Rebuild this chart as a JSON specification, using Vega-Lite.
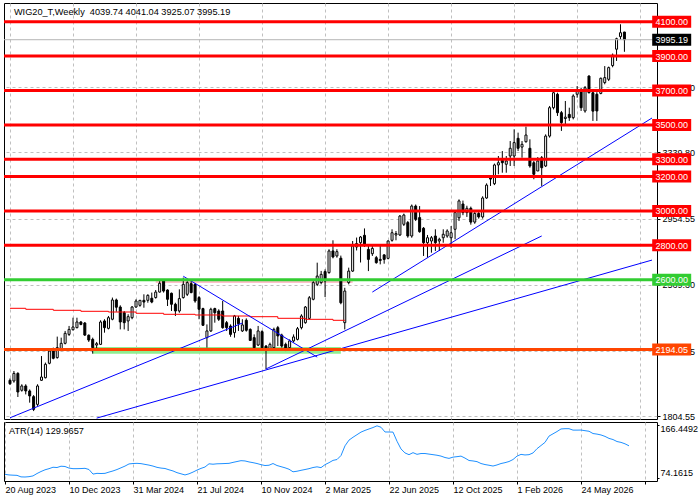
{
  "$schema": "https://vega.github.io/schema/vega-lite/v6.json",
  "background": "white",
  "padding": {"left": 2, "top": 2, "right": 0, "bottom": 0},
  "bounds": "flush",
  "spacing": 3,
  "config": {
    "font": "Liberation Sans",
    "view": {"stroke": "black", "strokeWidth": 1},
    "axis": {"labelFont": "Liberation Sans", "labelFontSize": 9, "labelColor": "black"},
    "text": {"font": "Liberation Sans"}
  },
  "datasets": {
    "candles": [
      {"d":"2023-08-20","o":2015,"h":2026,"l":1988,"c":1995,"a":80.1},
      {"d":"2023-08-27","o":2011,"h":2069,"l":2001,"c":2055,"a":79.0},
      {"d":"2023-09-03","o":2055,"h":2062,"l":1918,"c":1947,"a":78.6},
      {"d":"2023-09-10","o":1957,"h":1992,"l":1949,"c":1982,"a":78.3},
      {"d":"2023-09-17","o":1982,"h":1992,"l":1933,"c":1953,"a":75.6},
      {"d":"2023-09-24","o":1953,"h":1962,"l":1885,"c":1924,"a":75.4},
      {"d":"2023-10-01","o":1920,"h":1929,"l":1836,"c":1846,"a":76.0},
      {"d":"2023-10-08","o":1875,"h":1992,"l":1866,"c":1982,"a":77.3},
      {"d":"2023-10-15","o":2015,"h":2156,"l":2011,"c":2034,"a":81.5},
      {"d":"2023-10-22","o":2030,"h":2118,"l":2026,"c":2108,"a":85.0},
      {"d":"2023-10-29","o":2114,"h":2191,"l":2108,"c":2185,"a":88.0},
      {"d":"2023-11-05","o":2199,"h":2205,"l":2137,"c":2143,"a":90.0},
      {"d":"2023-11-12","o":2147,"h":2269,"l":2141,"c":2205,"a":92.5},
      {"d":"2023-11-19","o":2199,"h":2263,"l":2185,"c":2230,"a":92.0},
      {"d":"2023-11-26","o":2230,"h":2302,"l":2224,"c":2288,"a":94.3},
      {"d":"2023-12-03","o":2282,"h":2331,"l":2273,"c":2311,"a":93.8},
      {"d":"2023-12-10","o":2309,"h":2379,"l":2305,"c":2325,"a":91.0},
      {"d":"2023-12-17","o":2321,"h":2379,"l":2317,"c":2354,"a":90.0},
      {"d":"2023-12-24","o":2354,"h":2360,"l":2335,"c":2340,"a":90.0},
      {"d":"2023-12-31","o":2348,"h":2354,"l":2273,"c":2278,"a":90.2},
      {"d":"2024-01-07","o":2277,"h":2282,"l":2238,"c":2249,"a":90.6},
      {"d":"2024-01-14","o":2253,"h":2263,"l":2170,"c":2205,"a":88.5},
      {"d":"2024-01-21","o":2220,"h":2238,"l":2195,"c":2228,"a":80.5},
      {"d":"2024-01-28","o":2224,"h":2364,"l":2220,"c":2354,"a":81.8},
      {"d":"2024-02-04","o":2360,"h":2370,"l":2292,"c":2321,"a":81.5},
      {"d":"2024-02-11","o":2317,"h":2389,"l":2311,"c":2379,"a":81.8},
      {"d":"2024-02-18","o":2370,"h":2496,"l":2364,"c":2482,"a":84.0},
      {"d":"2024-02-25","o":2482,"h":2490,"l":2414,"c":2440,"a":86.0},
      {"d":"2024-03-03","o":2441,"h":2451,"l":2311,"c":2354,"a":88.5},
      {"d":"2024-03-10","o":2408,"h":2418,"l":2311,"c":2350,"a":91.5},
      {"d":"2024-03-17","o":2360,"h":2399,"l":2302,"c":2385,"a":94.5},
      {"d":"2024-03-24","o":2379,"h":2447,"l":2370,"c":2441,"a":98.3},
      {"d":"2024-03-31","o":2441,"h":2486,"l":2437,"c":2476,"a":99.0},
      {"d":"2024-04-07","o":2451,"h":2482,"l":2443,"c":2480,"a":99.3},
      {"d":"2024-04-14","o":2480,"h":2515,"l":2437,"c":2470,"a":98.8},
      {"d":"2024-04-21","o":2480,"h":2515,"l":2466,"c":2509,"a":97.5},
      {"d":"2024-04-28","o":2492,"h":2525,"l":2463,"c":2470,"a":96.2},
      {"d":"2024-05-05","o":2496,"h":2540,"l":2490,"c":2528,"a":94.5},
      {"d":"2024-05-12","o":2528,"h":2592,"l":2525,"c":2579,"a":92.3},
      {"d":"2024-05-19","o":2592,"h":2602,"l":2525,"c":2534,"a":91.0},
      {"d":"2024-05-26","o":2540,"h":2544,"l":2447,"c":2486,"a":90.3},
      {"d":"2024-06-02","o":2521,"h":2525,"l":2418,"c":2457,"a":88.0},
      {"d":"2024-06-09","o":2457,"h":2466,"l":2389,"c":2418,"a":86.0},
      {"d":"2024-06-16","o":2418,"h":2544,"l":2408,"c":2490,"a":83.0},
      {"d":"2024-06-23","o":2496,"h":2612,"l":2490,"c":2573,"a":81.0},
      {"d":"2024-06-30","o":2515,"h":2592,"l":2505,"c":2583,"a":79.0},
      {"d":"2024-07-07","o":2577,"h":2592,"l":2521,"c":2525,"a":81.0},
      {"d":"2024-07-14","o":2573,"h":2579,"l":2466,"c":2476,"a":84.0},
      {"d":"2024-07-21","o":2496,"h":2505,"l":2370,"c":2428,"a":87.5},
      {"d":"2024-07-28","o":2432,"h":2437,"l":2331,"c":2335,"a":90.5},
      {"d":"2024-08-04","o":2263,"h":2340,"l":2205,"c":2302,"a":92.9},
      {"d":"2024-08-11","o":2302,"h":2437,"l":2296,"c":2428,"a":98.5},
      {"d":"2024-08-18","o":2432,"h":2437,"l":2350,"c":2408,"a":97.8},
      {"d":"2024-08-25","o":2418,"h":2428,"l":2360,"c":2370,"a":98.5},
      {"d":"2024-09-01","o":2418,"h":2476,"l":2315,"c":2321,"a":98.7},
      {"d":"2024-09-08","o":2350,"h":2360,"l":2302,"c":2321,"a":99.0},
      {"d":"2024-09-15","o":2330,"h":2340,"l":2268,"c":2282,"a":99.3},
      {"d":"2024-09-22","o":2292,"h":2395,"l":2263,"c":2389,"a":101.0},
      {"d":"2024-09-29","o":2375,"h":2389,"l":2302,"c":2344,"a":102.5},
      {"d":"2024-10-06","o":2302,"h":2370,"l":2296,"c":2337,"a":104.0},
      {"d":"2024-10-13","o":2364,"h":2375,"l":2298,"c":2306,"a":103.5},
      {"d":"2024-10-20","o":2311,"h":2317,"l":2244,"c":2247,"a":101.8},
      {"d":"2024-10-27","o":2263,"h":2282,"l":2195,"c":2205,"a":100.5},
      {"d":"2024-11-03","o":2220,"h":2331,"l":2214,"c":2302,"a":99.0},
      {"d":"2024-11-10","o":2298,"h":2306,"l":2195,"c":2205,"a":97.0},
      {"d":"2024-11-17","o":2214,"h":2220,"l":2079,"c":2195,"a":95.5},
      {"d":"2024-11-24","o":2195,"h":2234,"l":2189,"c":2224,"a":96.0},
      {"d":"2024-12-01","o":2205,"h":2321,"l":2195,"c":2311,"a":99.0},
      {"d":"2024-12-08","o":2321,"h":2331,"l":2214,"c":2273,"a":95.5},
      {"d":"2024-12-15","o":2278,"h":2286,"l":2205,"c":2214,"a":93.5},
      {"d":"2024-12-22","o":2224,"h":2234,"l":2185,"c":2201,"a":91.5},
      {"d":"2024-12-29","o":2205,"h":2253,"l":2189,"c":2244,"a":89.0},
      {"d":"2025-01-05","o":2244,"h":2282,"l":2234,"c":2267,"a":84.5},
      {"d":"2025-01-12","o":2253,"h":2325,"l":2247,"c":2315,"a":85.5},
      {"d":"2025-01-19","o":2321,"h":2399,"l":2311,"c":2389,"a":87.1},
      {"d":"2025-01-26","o":2350,"h":2447,"l":2344,"c":2441,"a":88.5},
      {"d":"2025-02-02","o":2375,"h":2505,"l":2369,"c":2495,"a":90.0},
      {"d":"2025-02-09","o":2486,"h":2592,"l":2480,"c":2583,"a":92.0},
      {"d":"2025-02-16","o":2573,"h":2699,"l":2563,"c":2621,"a":93.2},
      {"d":"2025-02-23","o":2583,"h":2651,"l":2573,"c":2631,"a":91.8},
      {"d":"2025-03-02","o":2647,"h":2660,"l":2499,"c":2592,"a":97.0},
      {"d":"2025-03-09","o":2641,"h":2777,"l":2635,"c":2767,"a":100.5},
      {"d":"2025-03-16","o":2767,"h":2829,"l":2724,"c":2732,"a":104.5},
      {"d":"2025-03-23","o":2738,"h":2777,"l":2728,"c":2763,"a":106.0},
      {"d":"2025-03-30","o":2725,"h":2740,"l":2457,"c":2466,"a":113.0},
      {"d":"2025-04-06","o":2350,"h":2553,"l":2311,"c":2534,"a":130.0},
      {"d":"2025-04-13","o":2583,"h":2670,"l":2573,"c":2650,"a":140.0},
      {"d":"2025-04-20","o":2650,"h":2825,"l":2645,"c":2796,"a":145.0},
      {"d":"2025-04-27","o":2790,"h":2845,"l":2770,"c":2810,"a":149.5},
      {"d":"2025-05-04","o":2815,"h":2854,"l":2700,"c":2848,"a":154.0},
      {"d":"2025-05-11","o":2858,"h":2898,"l":2790,"c":2806,"a":157.0},
      {"d":"2025-05-18","o":2776,"h":2796,"l":2650,"c":2718,"a":159.5},
      {"d":"2025-05-25","o":2751,"h":2806,"l":2738,"c":2782,"a":162.0},
      {"d":"2025-06-01","o":2728,"h":2738,"l":2693,"c":2699,"a":165.0},
      {"d":"2025-06-08","o":2718,"h":2796,"l":2689,"c":2712,"a":162.5},
      {"d":"2025-06-15","o":2744,"h":2748,"l":2693,"c":2718,"a":154.2},
      {"d":"2025-06-22","o":2724,"h":2829,"l":2718,"c":2825,"a":154.2},
      {"d":"2025-06-29","o":2829,"h":2893,"l":2821,"c":2873,"a":154.0},
      {"d":"2025-07-06","o":2860,"h":2883,"l":2829,"c":2868,"a":138.0},
      {"d":"2025-07-13","o":2860,"h":2976,"l":2854,"c":2970,"a":124.5},
      {"d":"2025-07-20","o":2922,"h":2984,"l":2912,"c":2976,"a":117.5},
      {"d":"2025-07-27","o":2932,"h":2941,"l":2844,"c":2854,"a":114.5},
      {"d":"2025-08-03","o":2854,"h":3037,"l":2844,"c":3028,"a":118.0},
      {"d":"2025-08-10","o":3028,"h":3037,"l":2941,"c":2951,"a":115.1},
      {"d":"2025-08-17","o":2961,"h":3028,"l":2873,"c":2879,"a":116.5},
      {"d":"2025-08-24","o":2899,"h":2906,"l":2738,"c":2815,"a":116.5},
      {"d":"2025-08-31","o":2815,"h":2860,"l":2728,"c":2844,"a":115.5},
      {"d":"2025-09-07","o":2825,"h":2854,"l":2757,"c":2844,"a":114.5},
      {"d":"2025-09-14","o":2854,"h":2893,"l":2767,"c":2815,"a":113.5},
      {"d":"2025-09-21","o":2825,"h":2844,"l":2767,"c":2835,"a":112.0},
      {"d":"2025-09-28","o":2844,"h":2893,"l":2815,"c":2864,"a":109.5},
      {"d":"2025-10-05","o":2854,"h":2893,"l":2844,"c":2883,"a":108.0},
      {"d":"2025-10-12","o":2844,"h":2912,"l":2786,"c":2873,"a":110.2},
      {"d":"2025-10-19","o":2893,"h":2999,"l":2835,"c":2990,"a":111.0},
      {"d":"2025-10-26","o":2960,"h":3067,"l":2941,"c":3058,"a":112.0},
      {"d":"2025-11-02","o":3040,"h":3060,"l":2975,"c":2990,"a":108.5},
      {"d":"2025-11-09","o":2990,"h":3030,"l":2965,"c":3015,"a":104.3},
      {"d":"2025-11-16","o":3015,"h":3025,"l":2920,"c":2935,"a":103.5},
      {"d":"2025-11-23","o":2935,"h":2995,"l":2925,"c":2985,"a":102.3},
      {"d":"2025-11-30","o":2985,"h":2995,"l":2955,"c":2965,"a":99.0},
      {"d":"2025-12-07","o":2965,"h":3085,"l":2955,"c":3075,"a":97.2},
      {"d":"2025-12-14","o":3075,"h":3160,"l":3070,"c":3150,"a":96.0},
      {"d":"2025-12-21","o":3197,"h":3205,"l":3145,"c":3185,"a":94.6},
      {"d":"2025-12-28","o":3158,"h":3275,"l":3150,"c":3267,"a":96.5},
      {"d":"2026-01-04","o":3267,"h":3319,"l":3213,"c":3280,"a":99.0},
      {"d":"2026-01-11","o":3294,"h":3348,"l":3222,"c":3280,"a":100.5},
      {"d":"2026-01-18","o":3271,"h":3319,"l":3222,"c":3290,"a":102.5},
      {"d":"2026-01-25","o":3319,"h":3406,"l":3261,"c":3364,"a":106.0},
      {"d":"2026-02-01","o":3319,"h":3474,"l":3261,"c":3397,"a":112.0},
      {"d":"2026-02-08","o":3422,"h":3455,"l":3348,"c":3364,"a":115.0},
      {"d":"2026-02-15","o":3371,"h":3406,"l":3309,"c":3387,"a":114.0},
      {"d":"2026-02-22","o":3402,"h":3490,"l":3397,"c":3441,"a":114.5},
      {"d":"2026-03-01","o":3364,"h":3416,"l":3251,"c":3261,"a":117.5},
      {"d":"2026-03-08","o":3280,"h":3290,"l":3184,"c":3213,"a":125.0},
      {"d":"2026-03-15","o":3232,"h":3313,"l":3232,"c":3290,"a":130.5},
      {"d":"2026-03-22","o":3309,"h":3319,"l":3145,"c":3251,"a":136.0},
      {"d":"2026-03-29","o":3261,"h":3445,"l":3255,"c":3435,"a":147.0},
      {"d":"2026-04-05","o":3435,"h":3610,"l":3426,"c":3600,"a":151.0},
      {"d":"2026-04-12","o":3600,"h":3697,"l":3590,"c":3687,"a":155.0},
      {"d":"2026-04-19","o":3678,"h":3687,"l":3552,"c":3571,"a":159.5},
      {"d":"2026-04-26","o":3571,"h":3581,"l":3465,"c":3513,"a":160.0},
      {"d":"2026-05-03","o":3537,"h":3639,"l":3503,"c":3545,"a":160.0},
      {"d":"2026-05-10","o":3561,"h":3600,"l":3523,"c":3542,"a":157.5},
      {"d":"2026-05-17","o":3542,"h":3678,"l":3532,"c":3668,"a":157.5},
      {"d":"2026-05-24","o":3678,"h":3726,"l":3658,"c":3697,"a":157.6},
      {"d":"2026-05-31","o":3697,"h":3716,"l":3581,"c":3600,"a":156.5},
      {"d":"2026-06-07","o":3581,"h":3726,"l":3571,"c":3716,"a":155.5},
      {"d":"2026-06-14","o":3784,"h":3788,"l":3683,"c":3687,"a":151.5},
      {"d":"2026-06-21","o":3687,"h":3697,"l":3523,"c":3580,"a":150.5},
      {"d":"2026-06-28","o":3678,"h":3690,"l":3523,"c":3581,"a":149.0},
      {"d":"2026-07-05","o":3683,"h":3775,"l":3678,"c":3771,"a":146.5},
      {"d":"2026-07-12","o":3746,"h":3842,"l":3736,"c":3775,"a":143.0},
      {"d":"2026-07-19","o":3765,"h":3839,"l":3755,"c":3833,"a":141.0},
      {"d":"2026-07-26","o":3845,"h":3915,"l":3835,"c":3905,"a":137.5},
      {"d":"2026-08-02","o":3940,"h":4007,"l":3872,"c":4001,"a":136.0},
      {"d":"2026-08-09","o":4013,"h":4085,"l":3997,"c":4036,"a":133.5},
      {"d":"2026-08-16","o":4039.74,"h":4041.04,"l":3925.07,"c":3995.19,"a":129.9657}
    ],
    "levels": [
      {"p":4100,"k":"r"},{"p":3900,"k":"r"},{"p":3700,"k":"r"},{"p":3500,"k":"r"},
      {"p":3300,"k":"r"},{"p":3200,"k":"r"},{"p":3000,"k":"r"},{"p":2800,"k":"r"},
      {"p":2600,"k":"g"},{"p":2194.05,"k":"o"}
    ],
    "last": [{"p":3995.19,"k":"k"}],
    "bands": [
      {"d1":"2024-01-14","d2":"2025-03-30","p1":2170,"p2":2209,"k":"lg"},
      {"d1":"2024-05-05","d2":"2025-04-20","p1":2581,"p2":2600,"k":"pk"}
    ],
    "ma": [
      {"d":"2023-08-20","p":2433.6},{"d":"2023-09-17","p":2427.8},{"d":"2023-11-05","p":2422.0},
      {"d":"2023-12-24","p":2416.2},{"d":"2024-02-11","p":2412.1},{"d":"2024-03-31","p":2404.6},
      {"d":"2024-05-19","p":2398.7},{"d":"2024-07-14","p":2394.7},{"d":"2024-09-01","p":2388.8},
      {"d":"2024-10-20","p":2384.8},{"d":"2024-12-08","p":2375.5},{"d":"2025-01-26","p":2369.6},
      {"d":"2025-03-16","p":2363.8},{"d":"2025-04-06","p":2363.8}
    ],
    "tl": [
      {"id":"a","d":"2023-08-20","p":1797},{"id":"a","d":"2024-10-06","p":2348},
      {"id":"b","d":"2024-06-23","p":2620},{"id":"b","d":"2025-02-16","p":2150},
      {"id":"c","d":"2024-01-21","p":1795},{"id":"c","d":"2026-10-04","p":2714},
      {"id":"d","d":"2024-11-17","p":2081},{"id":"d","d":"2026-03-22","p":2854},
      {"id":"e","d":"2025-05-25","p":2528},{"id":"e","d":"2026-10-04","p":3540}
    ]
  },
  "vconcat": [
    {
      "width": 653,
      "height": 416,
      "layer": [
        {
          "data": {"name": "bands"},
          "mark": {"type": "rect"},
          "encoding": {
            "x": {"field": "d1", "type": "temporal", "title": null,
              "scale": {"type": "utc", "domain": [{"year":2023,"month":8,"date":18,"hours":6,"utc":true},{"year":2026,"month":10,"date":4,"utc":true}]},
              "axis": {"values": [{"year":2023,"month":8,"date":20,"utc":true},{"year":2023,"month":10,"date":15,"utc":true},{"year":2023,"month":12,"date":10,"utc":true},{"year":2024,"month":2,"date":4,"utc":true},{"year":2024,"month":3,"date":31,"utc":true},{"year":2024,"month":5,"date":26,"utc":true},{"year":2024,"month":7,"date":21,"utc":true},{"year":2024,"month":9,"date":15,"utc":true},{"year":2024,"month":11,"date":10,"utc":true},{"year":2025,"month":1,"date":5,"utc":true},{"year":2025,"month":3,"date":2,"utc":true},{"year":2025,"month":4,"date":27,"utc":true},{"year":2025,"month":6,"date":22,"utc":true},{"year":2025,"month":8,"date":17,"utc":true},{"year":2025,"month":10,"date":12,"utc":true},{"year":2025,"month":12,"date":7,"utc":true},{"year":2026,"month":2,"date":1,"utc":true},{"year":2026,"month":3,"date":29,"utc":true},{"year":2026,"month":5,"date":24,"utc":true},{"year":2026,"month":7,"date":19,"utc":true},{"year":2026,"month":9,"date":13,"utc":true}],
                "labels": false, "ticks": false, "domain": false, "grid": true, "gridColor": "#c0c0c0", "gridDash": [3,3], "title": null, "zindex": 0}},
            "x2": {"field": "d2"},
            "y": {"field": "p1", "type": "quantitative", "title": null,
              "scale": {"domain": [1790, 4208.7], "nice": false, "zero": false},
              "axis": {"orient": "right", "values": [1804.55,1994.30,2184.05,2379.55,2569.30,2764.80,2954.55,3144.30,3339.80,3529.55,3719.80,3909.55],
                "format": ".2f", "grid": true, "gridColor": "#c0c0c0", "gridDash": [3,3], "domain": false, "tickSize": 3, "tickColor": "black",
                "labelPadding": 2, "labelOverlap": false, "title": null, "zindex": 0}},
            "y2": {"field": "p2"},
            "color": {"field": "k", "type": "nominal", "legend": null,
              "scale": {"domain": ["r","g","o","k","lg","pk"], "range": ["#ff0000","#32cd32","#ff4500","#000000","#90ee90","#ffc0cb"]}}
          }
        },
        {
          "data": {"name": "candles"},
          "mark": {"type": "rule", "color": "black", "strokeWidth": 1},
          "encoding": {
            "x": {"field": "d", "type": "temporal", "title": null},
            "y": {"field": "l", "type": "quantitative", "title": null},
            "y2": {"field": "h"}
          }
        },
        {
          "data": {"name": "candles"},
          "mark": {"type": "bar", "width": 2, "stroke": "black", "strokeWidth": 1},
          "encoding": {
            "x": {"field": "d", "type": "temporal", "title": null},
            "y": {"field": "o", "type": "quantitative", "title": null},
            "y2": {"field": "c"},
            "fill": {"condition": {"test": "datum.c >= datum.o", "value": "white"}, "value": "black"}
          }
        },
        {
          "data": {"name": "ma"},
          "mark": {"type": "line", "color": "#ff0000", "strokeWidth": 1, "interpolate": "step-after"},
          "encoding": {
            "x": {"field": "d", "type": "temporal", "title": null},
            "y": {"field": "p", "type": "quantitative", "title": null}
          }
        },
        {
          "data": {"name": "tl"},
          "mark": {"type": "line", "color": "#0000ff", "strokeWidth": 1},
          "encoding": {
            "x": {"field": "d", "type": "temporal", "title": null},
            "y": {"field": "p", "type": "quantitative", "title": null},
            "detail": {"field": "id"}
          }
        },
        {
          "data": {"name": "last"},
          "mark": {"type": "rule", "color": "#b4b4b4", "strokeWidth": 1},
          "encoding": {
            "y": {"field": "p", "type": "quantitative", "title": null}
          }
        },
        {
          "data": {"name": "levels"},
          "mark": {"type": "rule", "strokeWidth": 3},
          "encoding": {
            "y": {"field": "p", "type": "quantitative", "title": null},
            "color": {"field": "k", "type": "nominal", "legend": null}
          }
        },
        {
          "data": {"name": "levels"},
          "mark": {"type": "tick", "orient": "horizontal", "size": 39, "thickness": 12, "opacity": 1},
          "encoding": {
            "x": {"datum": {"year":2026,"month":11,"date":8,"utc":true}, "type": "temporal"},
            "y": {"field": "p", "type": "quantitative", "title": null},
            "color": {"field": "k", "type": "nominal", "legend": null}
          }
        },
        {
          "data": {"name": "last"},
          "mark": {"type": "tick", "orient": "horizontal", "size": 39, "thickness": 12, "opacity": 1},
          "encoding": {
            "x": {"datum": {"year":2026,"month":11,"date":8,"utc":true}, "type": "temporal"},
            "y": {"field": "p", "type": "quantitative", "title": null},
            "color": {"field": "k", "type": "nominal", "legend": null}
          }
        },
        {
          "data": {"name": "levels"},
          "mark": {"type": "text", "color": "white", "fontSize": 9, "align": "center", "baseline": "middle", "dy": 0.5},
          "encoding": {
            "x": {"datum": {"year":2026,"month":11,"date":8,"utc":true}, "type": "temporal"},
            "y": {"field": "p", "type": "quantitative", "title": null},
            "text": {"field": "p", "format": ".2f"}
          }
        },
        {
          "data": {"name": "last"},
          "mark": {"type": "text", "color": "white", "fontSize": 9, "align": "center", "baseline": "middle", "dy": 0.5},
          "encoding": {
            "x": {"datum": {"year":2026,"month":11,"date":8,"utc":true}, "type": "temporal"},
            "y": {"field": "p", "type": "quantitative", "title": null},
            "text": {"field": "p", "format": ".2f"}
          }
        },
        {
          "data": {"values": [{"t": "WIG20_T,Weekly\u00a0 4039.74 4041.04 3925.07 3995.19"}]},
          "mark": {"type": "text", "color": "black", "fontSize": 9.2, "align": "left", "baseline": "middle"},
          "encoding": {
            "x": {"datum": {"year":2023,"month":8,"date":27,"utc":true}, "type": "temporal"},
            "y": {"datum": 4158, "type": "quantitative"},
            "text": {"field": "t"}
          }
        }
      ]
    },
    {
      "width": 653,
      "height": 59,
      "layer": [
        {
          "data": {"name": "candles"},
          "mark": {"type": "line", "color": "#1e90ff", "strokeWidth": 1},
          "encoding": {
            "x": {"field": "d", "type": "temporal", "title": null,
              "scale": {"type": "utc", "domain": [{"year":2023,"month":8,"date":18,"hours":6,"utc":true},{"year":2026,"month":10,"date":4,"utc":true}]},
              "axis": {"values": [{"year":2023,"month":8,"date":20,"utc":true},{"year":2023,"month":10,"date":15,"utc":true},{"year":2023,"month":12,"date":10,"utc":true},{"year":2024,"month":2,"date":4,"utc":true},{"year":2024,"month":3,"date":31,"utc":true},{"year":2024,"month":5,"date":26,"utc":true},{"year":2024,"month":7,"date":21,"utc":true},{"year":2024,"month":9,"date":15,"utc":true},{"year":2024,"month":11,"date":10,"utc":true},{"year":2025,"month":1,"date":5,"utc":true},{"year":2025,"month":3,"date":2,"utc":true},{"year":2025,"month":4,"date":27,"utc":true},{"year":2025,"month":6,"date":22,"utc":true},{"year":2025,"month":8,"date":17,"utc":true},{"year":2025,"month":10,"date":12,"utc":true},{"year":2025,"month":12,"date":7,"utc":true},{"year":2026,"month":2,"date":1,"utc":true},{"year":2026,"month":3,"date":29,"utc":true},{"year":2026,"month":5,"date":24,"utc":true},{"year":2026,"month":7,"date":19,"utc":true},{"year":2026,"month":9,"date":13,"utc":true}],
                "labelExpr": "(round((datum.value - utc(2023,7,20)) / 604800000) % 16 == 0 && datum.value < utc(2026,6,1)) ? utcFormat(datum.value, '%-d %b %Y') : ''",
                "labelAlign": "left", "labelBaseline": "top", "labelPadding": 1, "labelOverlap": false, "labelFlush": false,
                "tickSize": 3,
                "tickColor": {"condition": {"test": "round((datum.value - utc(2023,7,20)) / 604800000) % 16 == 0", "value": "black"}, "value": "transparent"},
                "domain": false, "grid": true, "gridColor": "#c0c0c0", "gridDash": [3,3], "title": null, "zindex": 0}},
            "y": {"field": "a", "type": "quantitative", "title": null,
              "scale": {"domain": [68.4, 171.7], "nice": false, "zero": false},
              "axis": {"orient": "right", "values": [74.1615, 166.4492], "format": ".4f", "grid": false, "domain": false,
                "tickSize": 2, "tickColor": "black", "labelPadding": 1, "labelOverlap": false,
                "labelBaseline": {"condition": {"test": "datum.value > 100", "value": "top"}, "value": "bottom"},
                "title": null, "zindex": 0}}
          }
        },
        {
          "data": {"values": [{"t": "ATR(14) 129.9657"}]},
          "mark": {"type": "text", "color": "black", "fontSize": 9.2, "align": "left", "baseline": "middle"},
          "encoding": {
            "x": {"datum": {"year":2023,"month":8,"date":27,"utc":true}, "type": "temporal"},
            "y": {"datum": 156, "type": "quantitative"},
            "text": {"field": "t"}
          }
        }
      ]
    }
  ]
}
